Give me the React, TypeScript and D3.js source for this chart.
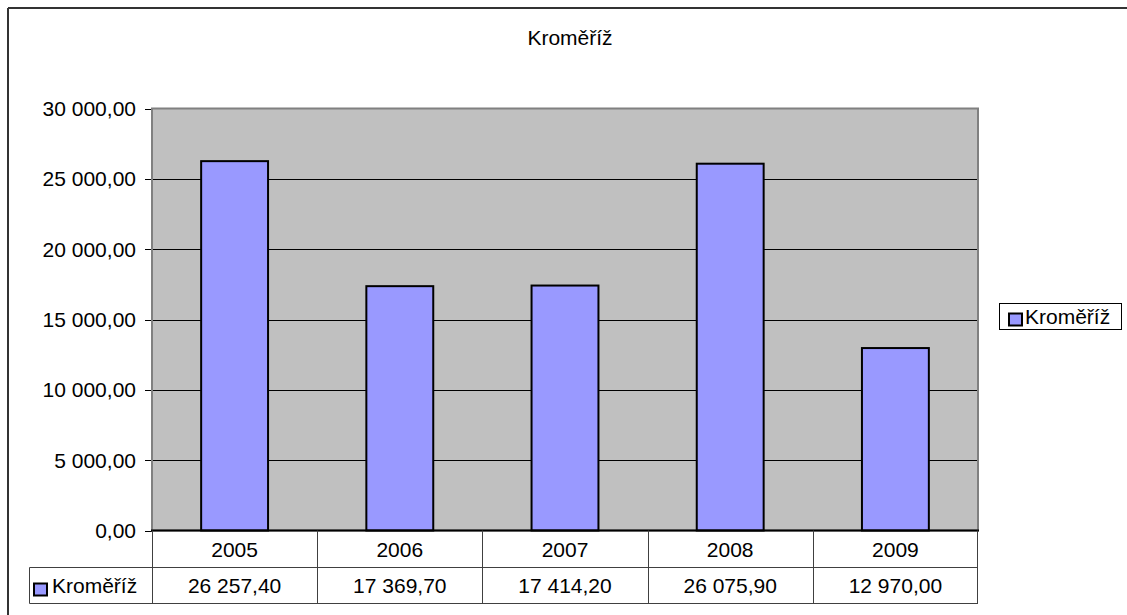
import React from "react";
import * as d3 from "d3";

const title = "Kroměříž";
const seriesName = "Kroměříž";
const categories = ["2005", "2006", "2007", "2008", "2009"];
const values = [26257.4, 17369.7, 17414.2, 26075.9, 12970.0];
const yTicks = [0, 5000, 10000, 15000, 20000, 25000, 30000];

const fmt = (v: number) => {
  const [i, d] = v.toFixed(2).split(".");
  const withSp = i.replace(/\B(?=(\d{3})+(?!\d))/g, " ");
  return withSp + "," + d;
};

export default function App() {
  const W = 1127, H = 615;
  const left = 152, right = 978, top = 108.5, bottom = 530.5;
  const x = d3.scaleBand<string>().domain(categories).range([left, right]).paddingInner(0).paddingOuter(0);
  const y = d3.scaleLinear().domain([0, 30000]).range([bottom, top]);
  const bw = x.bandwidth() * 0.405;
  const font = "'Liberation Sans', Arial, sans-serif";
  const fs = 21;
  const row1b = 567.5, row2b = 603.5;
  return (
    <svg width={W} height={H} style={{ position: "absolute", left: 0, top: 0 }} fontFamily={font}>
      <rect x={0} y={0} width={W} height={H} fill="#fff" />
      {/* outer border */}
      <line x1={8} y1={8} x2={W + 5} y2={8} stroke="#333" strokeWidth={2} />
      <line x1={8} y1={8} x2={8} y2={H + 5} stroke="#333" strokeWidth={2} />
      <text x={570} y={45} textAnchor="middle" fontSize={fs} fill="#000">{title}</text>
      {/* plot area */}
      <rect x={left} y={top} width={right - left} height={bottom - top} fill="#c0c0c0" />
      {yTicks.map((t) => (
        <g key={t}>
          {t > 0 && t < 30000 && <line x1={left} x2={right} y1={Math.round(y(t)) + 0.5} y2={Math.round(y(t)) + 0.5} stroke="#000" strokeWidth={1} />}
          <line x1={left - 7} x2={left} y1={Math.round(y(t)) + 0.5} y2={Math.round(y(t)) + 0.5} stroke="#000" strokeWidth={1} />
          <text x={136} y={y(t) + 7.5} textAnchor="end" fontSize={fs} fill="#000">{fmt(t)}</text>
        </g>
      ))}
      <rect x={left} y={top} width={right - left} height={bottom - top} fill="none" stroke="#808080" strokeWidth={2} />
      {values.map((v, i) => (
        <rect key={i} x={x(categories[i])! + (x.bandwidth() - bw) / 2} y={y(v)} width={bw} height={bottom - y(v)}
          fill="#9999ff" stroke="#000" strokeWidth={2} />
      ))}
      <line x1={left - 1} x2={right + 1} y1={bottom} y2={bottom} stroke="#000" strokeWidth={2} />
      {/* data table */}
      <g stroke="#404040" strokeWidth={1} fill="none">
        <line x1={29.5} x2={right} y1={row1b} y2={row1b} />
        <line x1={29.5} x2={right} y1={row2b} y2={row2b} />
        <line x1={29.5} x2={29.5} y1={row1b} y2={row2b} />
        {categories.map((c) => (
          <line key={c} x1={Math.round(x(c)!) + 0.5} x2={Math.round(x(c)!) + 0.5} y1={bottom} y2={row2b} />
        ))}
        <line x1={right - 0.5} x2={right - 0.5} y1={bottom} y2={row2b} />
      </g>
      {categories.map((c, i) => (
        <g key={c}>
          <text x={x(c)! + x.bandwidth() / 2} y={556.5} textAnchor="middle" fontSize={fs} fill="#000">{c}</text>
          <text x={x(c)! + x.bandwidth() / 2} y={593} textAnchor="middle" fontSize={fs} fill="#000">{fmt(values[i])}</text>
        </g>
      ))}
      <rect x={34} y={583.5} width={13} height={12} fill="#9999ff" stroke="#000" strokeWidth={2} />
      <text x={52} y={593} fontSize={fs} fill="#000">{seriesName}</text>
      {/* legend */}
      <rect x={999.5} y={303.5} width={122} height={26} fill="#fff" stroke="#000" strokeWidth={1} />
      <rect x={1009} y={313.5} width={13} height={12} fill="#9999ff" stroke="#000" strokeWidth={2} />
      <text x={1025} y={323.5} fontSize={fs} fill="#000">{seriesName}</text>
    </svg>
  );
}
